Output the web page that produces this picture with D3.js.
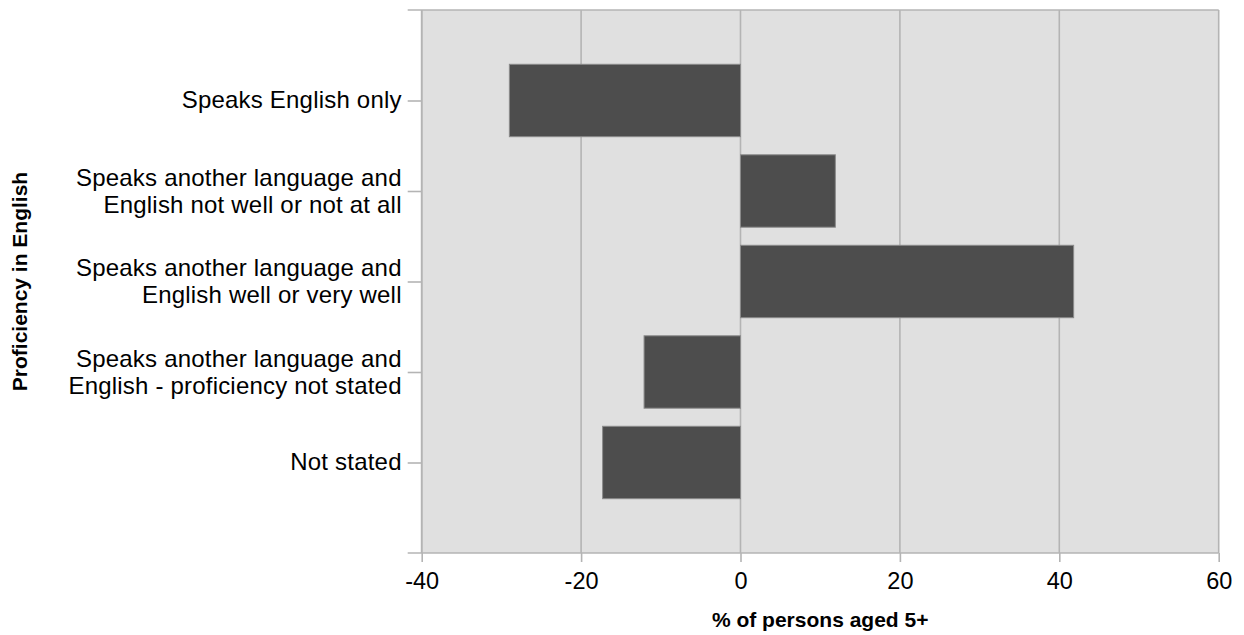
<!DOCTYPE html>
<html>
<head>
<meta charset="utf-8">
<script src="https://cdn.jsdelivr.net/npm/d3@7"></script>
<style>
  html, body { margin: 0; padding: 0; background: #ffffff; }
  svg { display: block; font-family: "Liberation Sans", Arial, sans-serif; }
</style>
</head>
<body>
<svg id="chart" width="1244" height="635"></svg>
<script>
// ---- data ----
const categories = [
  "Speaks English only",
  "Speaks another language and\nEnglish not well or not at all",
  "Speaks another language and\nEnglish well or very well",
  "Speaks another language and\nEnglish - proficiency not stated",
  "Not stated"
];
const values = [-29.0, 11.9, 41.8, -12.1, -17.3];
const xTicks = [-40, -20, 0, 20, 40, 60];
const xDomain = [-40, 60];
const xTitle = "% of persons aged 5+";
const yTitle = "Proficiency in English";

(function () {
// ---- layout ----
const pLeft = 421.7, pRight = 1218.7, pTop = 10, pBottom = 553;
const gridColor = "#b4b4b4";

const svg = d3.select("#chart");

const x = d3.scaleLinear().domain(xDomain).range([pLeft, pRight]);
const y = d3.scalePoint().domain(categories).range([pTop, pBottom]).padding(1);
const barH = y.step() * 0.8;

// plot background
svg.append("rect")
  .attr("x", pLeft).attr("y", pTop)
  .attr("width", pRight - pLeft).attr("height", pBottom - pTop)
  .attr("fill", "#e0e0e0");

// vertical gridlines
svg.append("g").selectAll("line").data(xTicks).join("line")
  .attr("x1", d => x(d)).attr("x2", d => x(d))
  .attr("y1", pTop).attr("y2", pBottom)
  .attr("stroke", gridColor).attr("stroke-width", 1.6);

// top border line (extends to tick length)
svg.append("line")
  .attr("x1", pLeft - 14).attr("x2", pRight)
  .attr("y1", pTop).attr("y2", pTop)
  .attr("stroke", gridColor).attr("stroke-width", 1.6);

// bars
svg.append("g").selectAll("rect").data(values).join("rect")
  .attr("x", d => x(Math.min(0, d)))
  .attr("width", d => Math.abs(x(d) - x(0)))
  .attr("y", (d, i) => y(categories[i]) - barH / 2)
  .attr("height", barH)
  .attr("fill", "#4d4d4d")
  .attr("stroke", "#8a8a8a")
  .attr("stroke-width", 1);

// x axis
const xAxis = d3.axisBottom(x).tickValues(xTicks).tickSizeInner(9).tickSizeOuter(0).tickPadding(10)
  .tickFormat(d3.format("d"));
const gx = svg.append("g").attr("transform", `translate(0,${pBottom})`).call(xAxis);
gx.select(".domain").remove();
gx.selectAll(".tick line").attr("stroke", gridColor).attr("stroke-width", 1.6);
gx.selectAll(".tick text").attr("fill", "#000").style("font-size", "23.5px")
  .style("font-family", "'Liberation Sans', Arial, sans-serif")
  .text(d => d < 0 ? "-" + Math.abs(d) : String(d));
svg.append("line")
  .attr("x1", pLeft - 14).attr("x2", pRight)
  .attr("y1", pBottom).attr("y2", pBottom)
  .attr("stroke", gridColor).attr("stroke-width", 1.6);

// y axis
const yAxis = d3.axisLeft(y).tickSizeInner(14).tickSizeOuter(0).tickFormat("");
const gy = svg.append("g").attr("transform", `translate(${pLeft},0)`).call(yAxis);
gy.select(".domain").remove();
gy.selectAll(".tick line").attr("stroke", gridColor).attr("stroke-width", 1.6);
svg.append("line")
  .attr("x1", pLeft).attr("x2", pLeft)
  .attr("y1", pTop).attr("y2", pBottom)
  .attr("stroke", gridColor).attr("stroke-width", 1.6);

// category labels
const lab = svg.append("g").selectAll("text").data(categories).join("text")
  .attr("text-anchor", "end")
  .attr("fill", "#000")
  .style("font-size", "24px")
  .style("letter-spacing", "0.2px");
lab.each(function(d) {
  const lines = d.split("\n");
  const c = y(d);
  const t = d3.select(this);
  lines.forEach((ln, i) => {
    const base = lines.length === 1 ? c + 7 : c - 5.5 + i * 27;
    t.append("tspan").attr("x", pLeft - 20).attr("y", base).text(ln);
  });
});

// axis titles
svg.append("text")
  .attr("x", (pLeft + pRight) / 2).attr("y", 627)
  .attr("text-anchor", "middle")
  .attr("fill", "#000")
  .style("font-size", "21px").style("font-weight", "bold")
  .text(xTitle);

svg.append("text")
  .attr("transform", `translate(27,${(pTop + pBottom) / 2}) rotate(-90)`)
  .attr("text-anchor", "middle")
  .attr("fill", "#000")
  .style("font-size", "21px").style("font-weight", "bold")
  .text(yTitle);
})();
</script>
</body>
</html>
